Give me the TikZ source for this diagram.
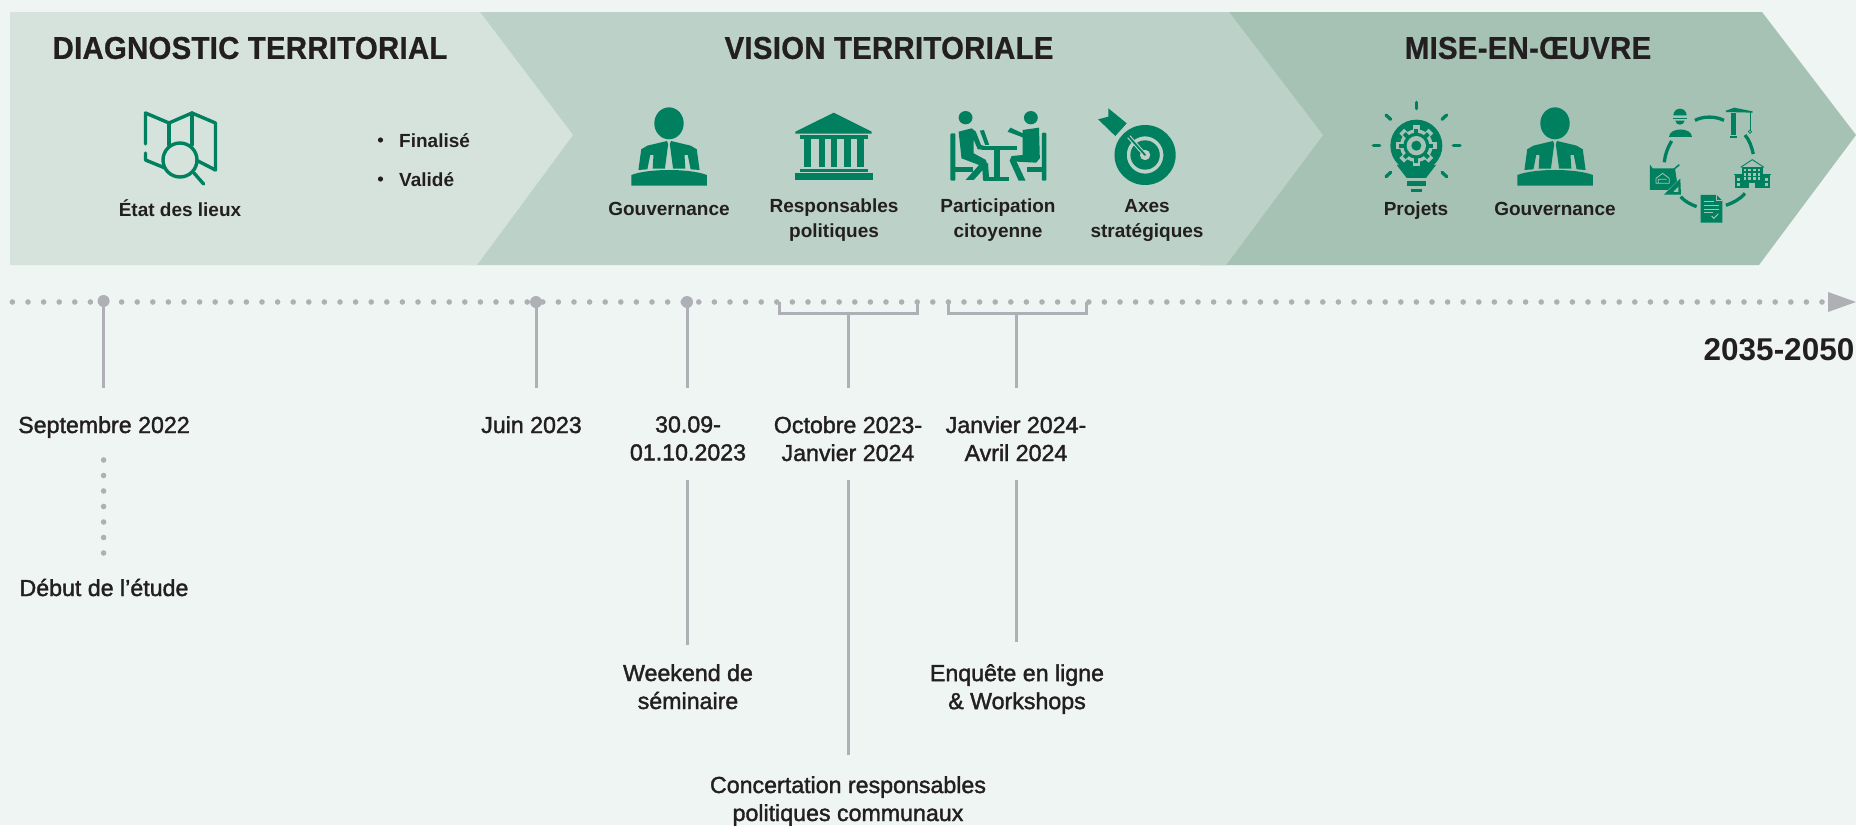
\documentclass[tikz,border=0pt]{standalone}
\usepackage{fontspec}
\setmainfont{Liberation Sans}
\newfontfamily\medf[FakeBold=1.6]{Liberation Sans}
\newfontfamily\boldf[FakeStretch=0.93,LetterSpace=1,FakeBold=0.8]{Liberation Sans Bold}
\definecolor{pagebg}{HTML}{EFF5F3}
\definecolor{chevA}{HTML}{D5E3DC}
\definecolor{chevB}{HTML}{BCD1C8}
\definecolor{chevC}{HTML}{A5C2B5}
\definecolor{iconG}{HTML}{00805E}
\definecolor{inkT}{HTML}{231F20}
\definecolor{axisG}{HTML}{AFB0B5}
\tikzset{
  titletxt/.style={inner sep=0pt,text=inkT,font=\boldf\fontsize{31.5}{36}\selectfont},
  boldtxt/.style={inner sep=0pt,text=inkT,align=center,font=\bfseries\fontsize{19}{25}\selectfont},
  medtxt/.style={inner sep=0pt,text=inkT,align=center,font=\medf\fontsize{23.2}{28}\selectfont},
  yeartxt/.style={inner sep=0pt,text=inkT,font=\bfseries\fontsize{31.5}{34}\selectfont},
  bigdot/.style={circle,fill=axisG,inner sep=0pt,minimum width=12pt},
  tick/.style={draw=axisG,line width=3pt},
  zmB/.style={shift={(580,90)},xscale=0.408,yscale=0.3333},
  zmC/.style={shift={(1340,90)},xscale=0.3333,yscale=0.3333},
  pics/person/.style={code={
    \begin{scope}[xscale=0.408,yscale=0.3333]
    \fill[iconG] (0,100) circle[x radius=36,y radius=48];
    \foreach \s in {1,-1}{
      \begin{scope}[xscale=\s]
      \fill[iconG] (-75,240)--(-68,178)--(-53,167)--(-5,153)--(-2,162)--(-10,236)--(-40,236)--(-38,195)--(-46,195)--(-53,238)--cycle;
      \end{scope}}
    \fill[iconG] (-92,255) .. controls (-50,235) and (50,235) .. (93,255) -- (93,287) -- (-92,287) -- cycle;
    \end{scope}}},
}
\begin{document}
\begin{tikzpicture}[x=1pt,y=-1pt]
\useasboundingbox (0,0) rectangle (1856,825);
\fill[pagebg] (0,0) rectangle (1856,825);
% chevrons
\fill[chevC] (1200,12)--(1762,12)--(1856,135)--(1759,265)--(1200,265)--cycle;
\fill[chevB] (470,12)--(1229,12)--(1323,135)--(1226,265)--(470,265)--cycle;
\fill[chevA] (10,12)--(480,12)--(573,135)--(477,265)--(10,265)--cycle;
% titles
\node[titletxt] (t1) at (250,48) {DIAGNOSTIC TERRITORIAL};
\node[titletxt] (t2) at (889,48) {VISION TERRITORIALE};
\node[titletxt] (t3) at (1528,48) {MISE-EN-ŒUVRE};
% map icon
\begin{scope}[iconG,line width=3.4pt,line cap=round,line join=round]
\draw (145.5,144)--(145.5,113)--(169,123)--(192,113)--(215.5,123)--(215.5,170)--(198,161);
\draw (145.5,153)--(145.5,160)--(165,168);
\draw (169,123)--(169,145);
\draw (192,113)--(192,145);
\draw (180,160) circle[x radius=17,y radius=17];
\draw (194,173)--(203.6,184);
\end{scope}
\node[boldtxt,anchor=base] (etat) at (180,216) {État des lieux};
\node[inner sep=0pt,text=inkT,font=\bfseries\fontsize{19}{24}\selectfont,anchor=base west] (fin) at (399,147) {Finalisé};
\node[inner sep=0pt,text=inkT,font=\bfseries\fontsize{19}{24}\selectfont,anchor=base west] (val) at (399,186) {Validé};
\fill[inkT] (380.5,140) circle[radius=2.6] (380.5,179) circle[radius=2.6];
% persons
\pic at (669,90) {person};
\pic at (1555,90) {person};
% temple
\begin{scope}[zmB,iconG]
\fill (622,68)--(715,125)--(715,131)--(528,131)--(528,125)--cycle;
\fill (540,136) rectangle (705,147);
\fill (548,147) rectangle (567,232);
\fill (585,147) rectangle (600,232);
\fill (615,147) rectangle (630,232);
\fill (647,147) rectangle (663,232);
\fill (680,147) rectangle (697,232);
\fill (540,238) rectangle (705,246);
\fill (528,250) rectangle (718,270);
% meeting
\fill (945,83) circle[x radius=17,y radius=20];
\fill (1105,83) circle[x radius=17,y radius=20];
\fill[rounded corners=1pt] (908,130) rectangle (920,272);
\fill (920,232) rectangle (962,245);
\fill[rounded corners=1pt] (1132,128) rectangle (1143,272);
\fill (1095,232) rectangle (1132,245);
\fill (928,125)--(960,115)--(970,125)--(983,165)--(1003,172)--(1003,180)--(975,178)--(965,150)--(965,190)--(995,210)--(998,225)--(965,270)--(945,270)--(978,225)--(935,205)--cycle;
\fill (985,215)--(1000,220)--(1003,272)--(988,272)--cycle;
\fill (980,122)--(990,120)--(1003,165)--(993,165)--cycle;
\fill (985,168) rectangle (1070,180);
\fill (1015,180) rectangle (1030,262);
\fill (990,262) rectangle (1052,273);
\fill (1085,120)--(1125,113)--(1127,205)--(1118,218)--(1070,215)--(1092,272)--(1075,272)--(1053,212)--(1058,198)--(1085,195)--(1085,142)--(1048,125)--(1055,113)--(1085,130)--cycle;
% target
\begin{scope}[even odd rule]
\fill (1385,195) circle[x radius=75,y radius=90] (1385,195) circle[x radius=45,y radius=56];
\fill (1385,195) circle[x radius=36,y radius=44] (1385,195) circle[x radius=13,y radius=16];
\end{scope}
\draw[chevB,line width=4pt] (1385,195)--(1345,140);
\draw[iconG,line width=1.8pt,line cap=round] (1385,195)--(1345,140);
\fill (1295,55)--(1315,75)--(1340,100)--(1312,138)--(1270,88)--(1295,80)--cycle;
\end{scope}
\node[boldtxt,anchor=base] (g1) at (669,215) {Gouvernance};
\node[boldtxt,anchor=north] (r1) at (834,199) {Responsables\\politiques};
\node[boldtxt,anchor=north] (p1) at (998,199) {Participation\\citoyenne};
\node[boldtxt,anchor=north] (a1) at (1147,199) {Axes\\stratégiques};
% bulb
\begin{scope}[zmC,iconG]
\foreach \xa/\ya/\xb/\yb in {229/37/229/56,138/75/152/88,320/75/306/88,100/167/119/167,340/167/360/167,138/260/152/247,320/260/306/247}
  \draw[line width=3.3pt,line cap=round] (\xa,\ya)--(\xb,\yb);
\fill (229,167) circle[radius=78];
\fill (170,225)--(288,225)--(258,264)--(200,264)--cycle;
\fill (202,272) rectangle (258,287);
\fill (212,296) rectangle (246,305);
\fill[chevC] (229,167) circle[radius=49];
\foreach \a in {0,45,...,315}{\fill[chevC,rotate around={\a:(229,167)}] (219,105) rectangle (239,125);}
\fill (229,167) circle[radius=39];
\foreach \a in {0,45,...,315}{\fill[rotate around={\a:(229,167)}] (223,116) rectangle (235,130);}
\fill[chevC] (229,167) circle[radius=29];
\fill (229,167) circle[radius=15];
% cycle: worker
\fill (1000,76) arc[start angle=180,end angle=360,radius=20] -- cycle;
\fill (1000,84) rectangle (1042,88);
\fill (1006,92) .. controls (1008,108) and (1032,108) .. (1034,92) -- cycle;
\fill (987,141) .. controls (987,112) and (1055,112) .. (1055,141) -- cycle;
% crane
\fill (1172,68) rectangle (1188,135);
\fill (1170,137) rectangle (1192,144);
\fill (1158,62)--(1183,53)--(1238,64)--(1238,68)--(1158,66)--cycle;
\draw[line width=.7pt] (1230,66)--(1230,122);
\draw[line width=.7pt] (1230,125) circle[radius=5];
% arrows
\begin{scope}[line width=3.3pt]
\draw (1065,91) .. controls (1090,78) and (1125,78) .. (1152,91);
\draw (1215,135) .. controls (1228,150) and (1235,170) .. (1240,192);
\draw (1215,310) .. controls (1200,328) and (1180,338) .. (1158,346);
\draw (1070,350) .. controls (1052,343) and (1035,335) .. (1022,320);
\draw (973,217) .. controls (975,195) and (982,175) .. (995,153);
\end{scope}
% building
\fill (1205,232) rectangle (1268,295);
\fill (1185,255) rectangle (1205,295);
\fill (1268,255) rectangle (1290,295);
\draw[line width=.9pt] (1202,232)--(1237,209)--(1272,232);
\draw[line width=.9pt] (1182,252)--(1205,252) (1268,252)--(1292,252);
\fill[chevC] (1228,280) rectangle (1246,295);
\foreach \x in {1215,1229,1243,1257}\foreach \y in {240,253,266}{\fill[chevC] (\x-4,\y-4) rectangle (\x+4,\y+4);}
\foreach \x in {1195,1279}\foreach \y in {268,283}{\fill[chevC] (\x-4,\y-4) rectangle (\x+4,\y+4);}
% document
\fill (1082,315)--(1130,315)--(1147,332)--(1147,398)--(1082,398)--cycle;
\draw[chevC,line width=.9pt] (1130,315)--(1130,332)--(1147,332);
\draw[chevC,line width=.9pt] (1092,335)--(1122,335) (1092,346)--(1137,346) (1092,357)--(1137,357) (1092,368)--(1120,368);
\draw[chevC,line width=1pt] (1115,378)--(1122,385)--(1135,371);
% blueprint
\fill (930,224)--(938,235)--(1005,235)--(1015,300)--(930,300)--cycle;
\draw[chevC,line width=.8pt] (948,280)--(948,265)--(968,250)--(988,265)--(988,280)--cycle (955,280)--(955,268)--(980,268);
\draw[line width=1.5pt] (990,248)--(1018,224);
\fill[chevC] (968,316)--(1024,262)--(1026,318)--cycle;
\fill (972,314)--(1021,266)--(1023,314)--cycle;
\fill[chevC] (1000,306)--(1015,290)--(1015,306)--cycle;
\end{scope}
\node[boldtxt,anchor=base] (pr) at (1416,215) {Projets};
\node[boldtxt,anchor=base] (g2) at (1555,215) {Gouvernance};
% axis
\foreach \k in {0,...,116}{\fill[axisG] ({1822-\k*15.6},302) circle[radius=2.8];}
\fill[axisG] (1828,292)--(1856,302)--(1828,312)--cycle;
\node[yeartxt] (y) at (1779,350) {2035-2050};
% ticks with dot
\node[bigdot] (d1) at (103.6,301) {};
\node[bigdot] (d2) at (536,302) {};
\node[bigdot] (d3) at (687,302) {};
\coordinate (e1) at (103.6,388);
\coordinate (e2) at (536,388);
\coordinate (e3) at (687,388);
\draw[tick] (d1.center)--(e1);
\draw[tick] (d2.center)--(e2);
\draw[tick] (d3.center)--(e3);
% brackets
\coordinate (b1a) at (779,302); \coordinate (b1b) at (917,302);
\coordinate (b1m) at (848,313); \coordinate (b1e) at (848,388);
\coordinate (b2a) at (948,302); \coordinate (b2b) at (1086,302);
\coordinate (b2m) at (1016,313); \coordinate (b2e) at (1016,388);
\draw[tick] (b1a)|-(b1m)-|(b1b);
\draw[tick] (b1m)--(b1e);
\draw[tick] (b2a)|-(b2m)-|(b2b);
\draw[tick] (b2m)--(b2e);
% date labels
\node[medtxt,anchor=base] (l1) at (104,433) {Septembre 2022};
\node[medtxt,anchor=base] (l2) at (531.5,433) {Juin 2023};
\node[medtxt,anchor=north] (l3) at (688,416) {30.09-\\01.10.2023};
\node[medtxt,anchor=north] (l4) at (848,416) {Octobre 2023-\\Janvier 2024};
\node[medtxt,anchor=north] (l5) at (1016,416) {Janvier 2024-\\Avril 2024};
% lower items
\foreach \k in {0,...,6}{\fill[axisG] (103.6,{460+\k*15.5}) circle[radius=2.8];}
\node[medtxt,anchor=base] (m1) at (104,596) {Début de l’étude};
\coordinate (s3) at (687,480); \coordinate (f3) at (687,645);
\coordinate (s4) at (848,480); \coordinate (f4) at (848,755);
\coordinate (s5) at (1016,480); \coordinate (f5) at (1016,642);
\draw[tick] (s3)--(f3);
\draw[tick] (s4)--(f4);
\draw[tick] (s5)--(f5);
\node[medtxt,anchor=north] (m3) at (688,664) {Weekend de\\séminaire};
\node[medtxt,anchor=north] (m4) at (848,776) {Concertation responsables\\politiques communaux};
\node[medtxt,anchor=north] (m5) at (1017,664) {Enquête en ligne\\\& Workshops};
\end{tikzpicture}
\end{document}
